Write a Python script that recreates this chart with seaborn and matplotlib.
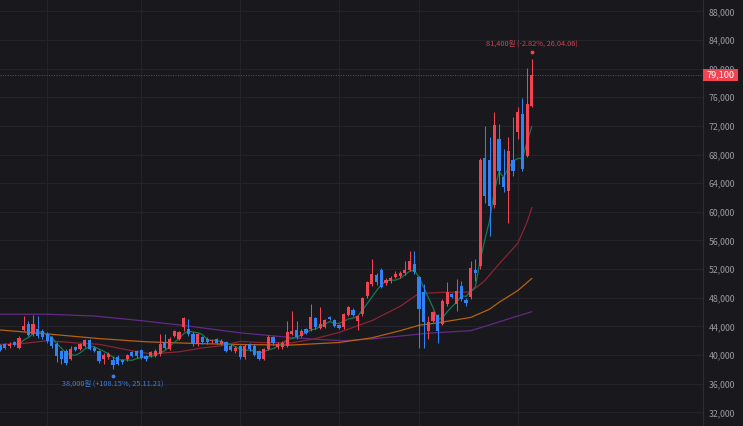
import numpy as np
import pandas as pd
import seaborn as sns
import matplotlib.pyplot as plt
import matplotlib.transforms as mtransforms
from matplotlib.patches import Rectangle

# daily candles, oldest first (last one = 26.04.06)
opens = [41400, 41500, 41200, 41800, 40950, 43550, 44300, 42950, 43700, 43400,
         43000, 42500, 41600, 40500, 40600, 39500, 41100, 40900, 41300, 42100,
         41000, 40500, 39400, 39700, 39300, 39700, 39300, 39400, 40400, 40500,
         40700, 39800, 39900, 39900, 40100, 41800, 40900, 42700, 42300, 43850,
         43600, 43000, 41500, 42500, 42300, 41900, 42200, 41550, 41800, 41300,
         40500, 41200, 39700, 41500, 41300, 40500, 39450, 40800, 42550, 41100,
         41100, 41300, 42950, 43500, 42700, 43650, 43600, 45150, 43750, 43950,
         45350, 44900, 44150, 43900, 45600, 46300, 44750, 45700, 48250, 49900,
         51200, 51900, 50000, 50300, 50850, 51000, 51400, 51900, 52700, 50850,
         48750, 43400, 44800, 45650, 44400, 47100, 48500, 47100, 49700, 47700,
         48050, 51850, 52450, 67500, 67200, 60950, 70150, 64800, 62950, 67200,
         71100, 73650, 67800, 74800]
highs = [41600, 41700, 41800, 42000, 42700, 45400, 44700, 45600, 45500, 43600,
         43200, 42700, 41800, 40700, 40800, 41200, 41300, 41700, 42300, 42300,
         41200, 40700, 40300, 40400, 39900, 40000, 39500, 40200, 40600, 40700,
         40900, 40000, 40600, 40800, 42900, 42900, 42500, 43500, 43400, 45300,
         45000, 43200, 43100, 42700, 42500, 42300, 42400, 42200, 42000, 41500,
         41300, 41400, 41500, 41700, 41500, 40700, 41000, 42800, 42700, 41800,
         41900, 44800, 46100, 44800, 43600, 43800, 47150, 45300, 46650, 45100,
         45500, 45050, 44300, 45900, 46900, 46500, 45600, 48100, 50400, 53400,
         51400, 52100, 50700, 51000, 51800, 51700, 53200, 54550, 54500, 51000,
         49900, 45500, 46200, 45800, 47800, 50150, 48700, 50600, 50400, 47900,
         53200, 53400, 67500, 72000, 70400, 73900, 72200, 68750, 70400, 73200,
         74600, 75900, 80150, 81400]
lows = [40500, 40800, 41000, 41200, 40800, 43400, 42600, 42700, 42400, 42300,
        41700, 41000, 39000, 38800, 38600, 39300, 40500, 40700, 41100, 40700,
        40400, 38900, 38700, 39500, 38000, 38600, 38800, 39200, 39700, 39600,
        39400, 39200, 39700, 39700, 39900, 40800, 40700, 42500, 42100, 43300,
        42700, 41300, 41300, 41600, 41600, 41700, 41500, 41400, 40400, 40500,
        40300, 39500, 39500, 40600, 39800, 39300, 39300, 40700, 41400, 40900,
        40900, 41100, 42800, 42300, 42500, 42900, 43400, 43700, 43600, 43800,
        44850, 43900, 43600, 43700, 45400, 45400, 43500, 45500, 48000, 49700,
        49800, 49300, 49800, 50100, 50700, 50800, 51200, 51700, 51300, 41000,
        41000, 42200, 44600, 41750, 44200, 46900, 47900, 46100, 47600, 46900,
        47800, 50300, 52000, 61300, 56650, 60500, 63900, 62700, 58400, 65050,
        70200, 65700, 67600, 74700]
closes = [40700, 41000, 41600, 41400, 42400, 44000, 42800, 44300, 42600, 42500,
          41900, 41200, 39800, 39500, 38900, 40900, 40700, 41500, 42100, 40900,
          40600, 39100, 40000, 40200, 38600, 38800, 39000, 40000, 39900, 39800,
          39600, 39400, 40400, 40600, 41600, 41000, 42300, 43300, 43150, 45150,
          42900, 41500, 42900, 41800, 41800, 42100, 41700, 42000, 40600, 40700,
          41050, 39700, 41300, 40800, 40000, 39450, 40800, 42550, 41650, 41600,
          41750, 43150, 43400, 42450, 43400, 43050, 45300, 43850, 44300, 44950,
          45000, 44050, 43750, 45700, 46700, 45600, 45450, 47950, 50150, 51300,
          50150, 49550, 50450, 50800, 51300, 51450, 51850, 53150, 51550, 46400,
          44550, 44550, 45950, 43300, 47600, 48750, 48150, 49000, 47800, 47300,
          52100, 51500, 67200, 62250, 60750, 72100, 65750, 63400, 68450, 65750,
          73900, 65950, 75050, 79100]

# longer moving averages at a few sessions
ma20_idx = [0, 4, 10, 16, 21, 28, 32, 38, 43, 47, 51, 55, 62, 67, 72, 76, 79,
            85, 89, 94, 100, 103, 106, 110, 112, 113]
ma20 = [41500, 41550, 42000, 41700, 41500, 40600, 40150, 40450, 41000, 41300,
        41900, 41750, 41700, 42300, 43150, 44100, 44800, 46800, 48600, 48750,
        48800, 50400, 52700, 55600, 58600, 60600]
ma60_idx = [0, 10, 21, 31, 42, 53, 62, 72, 79, 85, 89, 93, 100, 104, 106, 110, 113]
ma60 = [43500, 42950, 42300, 41850, 41600, 41450, 41400, 41750, 42400, 43400,
        44150, 44500, 45250, 46400, 47350, 49000, 50700]
ma120_idx = [0, 10, 20, 30, 40, 51, 61, 67, 73, 79, 85, 91, 100, 104, 108, 113]
ma120 = [45700, 45700, 45450, 44800, 44050, 43100, 42500, 42200, 42000, 42250,
         42650, 43050, 43400, 44200, 45050, 46050]

month_starts = [10, 30, 51, 72, 89, 110]   # first session of Nov..Apr
price_ticks = list(range(32000, 88001, 4000))

high_label = "81,400원 (-2.82%, 26.04.06)"
low_label = "38,000원 (+108.15%, 25.11.21)"
last_price = 79100

BG = "#18181d"
GRID = "#24242a"
UP = "#f04452"
DOWN = "#3182f6"

sns.set_theme(style="dark", rc={"axes.facecolor": BG, "figure.facecolor": BG})
plt.rcParams["font.family"] = ["Noto Sans CJK KR", "DejaVu Sans"]

df = pd.DataFrame({"open": opens, "high": highs, "low": lows, "close": closes})
df["x"] = np.arange(len(df))
df["ma5"] = df["close"].rolling(5).mean()
colors = np.where(df["close"] >= df["open"], UP, DOWN)

fig = plt.figure(figsize=(7.43, 4.26), dpi=100)
ax = fig.add_axes([0, 0, 703 / 743, 1])
ax.set_facecolor(BG)

for t in price_ticks:
    ax.axhline(t, color=GRID, lw=0.7, zorder=0)
for m in month_starts:
    ax.axvline(m, color=GRID, lw=0.7, zorder=0)

# moving averages
sns.lineplot(x=ma120_idx, y=ma120, ax=ax, color="#622a86", lw=0.9, zorder=1)
sns.lineplot(x=ma60_idx, y=ma60, ax=ax, color="#b8610f", lw=0.9, zorder=1)
sns.lineplot(x=ma20_idx, y=ma20, ax=ax, color="#8a2434", lw=0.9, zorder=1)
sns.lineplot(data=df, x="x", y="ma5", ax=ax, color="#137a50", lw=0.9, zorder=1)

# candles
ax.vlines(df["x"], df["low"], df["high"], colors=colors, lw=0.75, zorder=3)
body = (df["close"] - df["open"]).abs().clip(lower=80)
ax.bar(df["x"], body, bottom=df[["open", "close"]].min(axis=1), width=0.68,
       color=colors, lw=0, zorder=4)

# current price line + tag
ax.axhline(last_price, color="#9c3a45", lw=0.7, ls=(0, (1, 1.5)), zorder=2)
tr = mtransforms.blended_transform_factory(ax.transAxes, ax.transData)
ax.add_patch(Rectangle((1.0, last_price - 780), 0.05, 1560, transform=tr,
                       fc=UP, ec="none", clip_on=False, zorder=6))
ax.text(1.025, last_price, f"{last_price:,}", transform=tr, ha="center",
        va="center", color="white", fontsize=6.6, clip_on=False, zorder=7)

# high / low markers
hi_i = int(df["high"].idxmax())
lo_i = int(df["low"].idxmin())
up_dot = ax.transData + mtransforms.ScaledTranslation(0, 4.8 / 72, fig.dpi_scale_trans)
dn_dot = ax.transData + mtransforms.ScaledTranslation(0, -4.8 / 72, fig.dpi_scale_trans)
ax.plot(hi_i, df["high"][hi_i], "o", ms=1.8, color=UP, transform=up_dot, zorder=5)
ax.plot(lo_i, df["low"][lo_i], "o", ms=1.8, color=DOWN, transform=dn_dot, zorder=5)
ax.annotate(high_label, (hi_i, df["high"][hi_i]), xytext=(0, 10.5),
            textcoords="offset points", ha="center", va="center",
            fontsize=5.3, color="#d0434f")
ax.annotate(low_label, (lo_i, df["low"][lo_i]), xytext=(0, -10.5),
            textcoords="offset points", ha="center", va="center",
            fontsize=5.3, color="#3d7fe0")

ax.set_xlim(-0.02, 149.36)
ax.set_ylim(30090, 89580)
ax.set_xticks([])
ax.yaxis.tick_right()
ax.set_yticks(price_ticks)
ax.set_yticklabels([f"{t:,}" for t in price_ticks])
ax.tick_params(axis="y", length=0, pad=4, labelsize=6.3, labelcolor="#9a9aa2")
ax.set_xlabel("")
ax.set_ylabel("")
for side in ["left", "top", "bottom"]:
    ax.spines[side].set_visible(False)
ax.spines["right"].set_color("#2c2c33")
ax.spines["right"].set_linewidth(0.8)
ax.grid(False)

fig.savefig("out.png", dpi=100, facecolor=BG)
